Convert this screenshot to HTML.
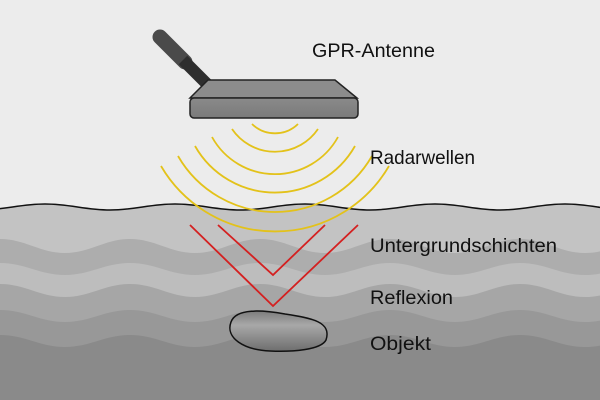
<!DOCTYPE html>
<html><head><meta charset="utf-8"><style>
body{margin:0;width:600px;height:400px;overflow:hidden;background:#ececec}
svg{display:block}
text{font-family:"Liberation Sans",sans-serif;font-size:19.5px;fill:#111}
</style></head><body>
<svg width="600" height="400" viewBox="0 0 600 400">
<defs>
<linearGradient id="obj" x1="0" y1="0" x2="0" y2="1">
<stop offset="0" stop-color="#7c7c7c"/><stop offset="0.35" stop-color="#a8a8a8"/><stop offset="1" stop-color="#6e6e6e"/>
</linearGradient>
<linearGradient id="box" x1="0" y1="0" x2="0" y2="1">
<stop offset="0" stop-color="#8a8a8a"/><stop offset="1" stop-color="#7a7a7a"/>
</linearGradient>
</defs>
<rect width="600" height="400" fill="#ececec"/>
<path d="M-20,210 C5,210 20,204 45,204 S85,210 110,210 S150,204 175,204 S215,210 240,210 S280,204 305,204 S345,210 370,210 S410,204 435,204 S475,210 500,210 S540,204 565,204 S605,210 630,210 L630,400 L-20,400Z" fill="#c3c3c3"/>
<path d="M0,239 C25,239 40,253 65,253 S105,239 130,239 S170,253 195,253 S235,239 260,239 S300,253 325,253 S365,239 390,239 S430,253 455,253 S495,239 520,239 S560,253 585,253 S625,239 650,239 L650,400 L0,400Z" fill="#adadad"/>
<path d="M0,263 C25,263 40,275 65,275 S105,263 130,263 S170,275 195,275 S235,263 260,263 S300,275 325,275 S365,263 390,263 S430,275 455,275 S495,263 520,263 S560,275 585,275 S625,263 650,263 L650,400 L0,400Z" fill="#bdbdbd"/>
<path d="M0,284 C25,284 40,297 65,297 S105,284 130,284 S170,297 195,297 S235,284 260,284 S300,297 325,297 S365,284 390,284 S430,297 455,297 S495,284 520,284 S560,297 585,297 S625,284 650,284 L650,400 L0,400Z" fill="#a6a6a6"/>
<path d="M0,310 C25,310 40,322 65,322 S105,310 130,310 S170,322 195,322 S235,310 260,310 S300,322 325,322 S365,310 390,310 S430,322 455,322 S495,310 520,310 S560,322 585,322 S625,310 650,310 L650,400 L0,400Z" fill="#989898"/>
<path d="M0,335 C25,335 40,347 65,347 S105,335 130,335 S170,347 195,347 S235,335 260,335 S300,347 325,347 S365,335 390,335 S430,347 455,347 S495,335 520,335 S560,347 585,347 S625,335 650,335 L650,400 L0,400Z" fill="#8a8a8a"/>
<path d="M-20,210 C5,210 20,204 45,204 S85,210 110,210 S150,204 175,204 S215,210 240,210 S280,204 305,204 S345,210 370,210 S410,204 435,204 S475,210 500,210 S540,204 565,204 S605,210 630,210" fill="none" stroke="#111" stroke-width="1.5"/>
<g fill="none" stroke="#e3c21a" stroke-width="1.8">
<path d="M252,124 A33,33 0 0 0 298,124"/>
<path d="M232,129 A52,52 0 0 0 318,129"/>
<path d="M212,137 A72,72 0 0 0 338,137"/>
<path d="M195,146 A92,92 0 0 0 355,146"/>
<path d="M178,156 A112,112 0 0 0 372,156"/>
<path d="M161,166 A132,132 0 0 0 389,166"/>
</g>
<g fill="none" stroke="#d42020" stroke-width="1.8">
<polyline points="190,225 273,306 358,225"/>
<polyline points="218,225 273,275 325,225"/>
</g>
<path d="M231,322 C236,308 262,310 285,314 C312,318 332,322 326,340 C321,350 292,352 270,351 C244,350 225,338 231,322Z" fill="url(#obj)" stroke="#111" stroke-width="1.5"/>
<line x1="160" y1="37" x2="185" y2="62" stroke="#4a4a4a" stroke-width="15" stroke-linecap="round"/>
<line x1="183" y1="60" x2="208" y2="85" stroke="#2e2e2e" stroke-width="12"/>
<path d="M208,80 L335,80 L357,98 L190,98 Z" fill="#8c8c8c" stroke="#222" stroke-width="1.5"/>
<rect x="190" y="98" width="168" height="20" rx="4" fill="url(#box)" stroke="#222" stroke-width="1.5"/>
<text x="312" y="57" textLength="123" lengthAdjust="spacingAndGlyphs">GPR-Antenne</text>
<text x="370" y="164" textLength="105" lengthAdjust="spacingAndGlyphs">Radarwellen</text>
<text x="370" y="252" textLength="187" lengthAdjust="spacingAndGlyphs">Untergrundschichten</text>
<text x="370" y="304" textLength="83" lengthAdjust="spacingAndGlyphs">Reflexion</text>
<text x="370" y="350" textLength="61" lengthAdjust="spacingAndGlyphs">Objekt</text>
</svg>
</body></html>
